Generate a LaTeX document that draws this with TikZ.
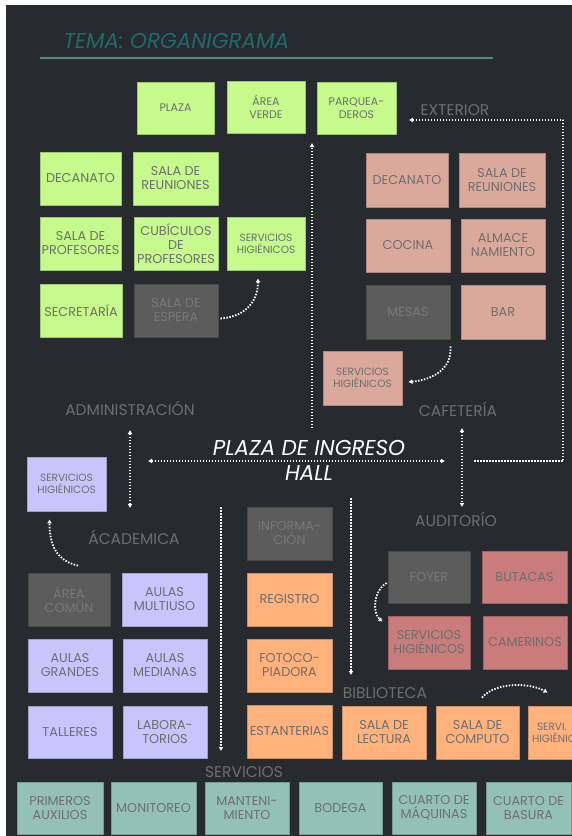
\documentclass[tikz,border=0pt]{standalone}
\usepackage{fontspec}
\setmainfont{Poppins}
\usetikzlibrary{arrows.meta}

\definecolor{fondo}{HTML}{272B2F}
\definecolor{verdeclaro}{HTML}{C6FA8C}
\definecolor{salmon}{HTML}{DBA99B}
\definecolor{lila}{HTML}{C6C6FC}
\definecolor{naranja}{HTML}{FFB27C}
\definecolor{rosa}{HTML}{C97C7B}
\definecolor{turquesa}{HTML}{93C1BA}
\definecolor{grisbox}{HTML}{5C5C5C}
\definecolor{gristexto}{HTML}{6E6E6E}
\definecolor{grisapagado}{HTML}{787878}
\definecolor{titulo}{HTML}{1E6B6A}
\definecolor{linea}{HTML}{5B8781}

\tikzset{
  caja/.style={draw=#1!80!black, fill=#1, line width=0.8pt, minimum width=84pt,
    minimum height=53pt, inner sep=1pt, align=center, text=gristexto,
    font=\fontsize{12.8}{14}\selectfont},
  chico/.style={font=\fontsize{10.5}{12}\selectfont},
  arriba/.style={font=\fontsize{11}{13}\selectfont},
  apagada/.style={caja=grisbox, text=grisapagado},
  zona/.style={text=gristexto, font=\fontsize{15.5}{18}\selectfont},
  flujo/.style={white, line width=2.2pt, dash pattern=on 1.5pt off 1.5pt},
}

\begin{document}
\begin{tikzpicture}[x=1pt,y=-1pt,>={Latex[length=4pt,width=5pt]},line join=round]
\useasboundingbox (0,0) rectangle (572,836);
\clip (0,0) rectangle (572,836);
\fill[white] (0,0) rectangle (572,836);
\fill[fondo] (6,5) rectangle (572,836);

% titulo
\node[anchor=base west, text=titulo, font=\fontsize{21.5}{24}\selectfont\itshape] (tema) at (60,48) {TEMA: ORGANIGRAMA};
\draw[linea, line width=2.5pt] (40,58) -- (493,58);

% exterior
\node[caja=verdeclaro, arriba, minimum width=77pt, minimum height=52pt] (plaza) at (175.5,108) {PLAZA};
\node[caja=verdeclaro, arriba, minimum width=78pt, minimum height=52pt] (verde) at (266,107) {ÁREA\\VERDE};
\node[caja=verdeclaro, arriba, minimum width=79pt, minimum height=52pt] (parq) at (356.5,108) {PARQUEA-\\DEROS};

% administracion
\node[caja=verdeclaro, minimum width=81pt] (decA) at (80.5,178.5) {DECANATO};
\node[caja=verdeclaro, minimum width=85pt] (reunA) at (175.5,178.5) {SALA DE\\REUNIONES};
\node[caja=verdeclaro, minimum width=81pt] (profA) at (80.5,243.5) {SALA DE\\PROFESORES};
\node[caja=verdeclaro] (cubA) at (176,243.5) {CUBÍCULOS\\DE\\PROFESORES};
\node[caja=verdeclaro, chico, minimum width=78pt] (shA) at (266,243.5) {SERVICIOS\\HIGIÉNICOS};
\node[caja=verdeclaro, minimum width=82pt] (secA) at (81,310.5) {SECRETARÍA};
\node[apagada] (espA) at (176,310.5) {SALA DE\\ESPERA};

% cafeteria
\node[caja=salmon, minimum width=82pt, minimum height=54pt] (decC) at (407,180) {DECANATO};
\node[caja=salmon, minimum width=86pt, minimum height=54pt] (reunC) at (502,180) {SALA DE\\REUNIONES};
\node[caja=salmon] (cocC) at (408,245.5) {COCINA};
\node[caja=salmon] (almC) at (503,245.5) {ALMACE\\NAMIENTO};
\node[apagada, minimum height=54pt] (mesC) at (408,312) {MESAS};
\node[caja=salmon, minimum height=54pt] (barC) at (503,312) {BAR};
\node[caja=salmon, chico, minimum width=79pt, minimum height=54pt] (shC) at (362.5,378) {SERVICIOS\\HIGIÉNICOS};

% zonas
\node[zona] (exterior) at (455,110) {EXTERIOR};
\node[zona] (admin) at (130,408) {ADMINISTRACIÓN};
\node[zona] (cafe) at (458,409) {CAFETERÍA};
\node[zona] (auditorio) at (456,519) {AUDITORÍO};
\node[zona] (academica) at (134,537) {ÁCADEMICA};
\node[zona] (biblioteca) at (385,693) {BIBLIOTECA};
\node[zona] (servicios) at (244,772) {SERVICIOS};
\node[text=white, align=center, font=\fontsize{21.5}{25}\selectfont\itshape] (hall) at (309,460) {PLAZA DE INGRESO\\HALL};

% academica
\node[caja=lila, chico, minimum width=79pt, minimum height=54pt] (shK) at (66.5,484) {SERVICIOS\\HIGIÉNICOS};
\node[apagada, minimum width=82pt] (comK) at (69,599.5) {ÁREA\\COMÚN};
\node[caja=lila, minimum width=85pt] (mulK) at (164.5,599.5) {AULAS\\MULTIUSO};
\node[caja=lila] (graK) at (70,665.5) {AULAS\\GRANDES};
\node[caja=lila] (medK) at (165,665.5) {AULAS\\MEDIANAS};
\node[caja=lila, minimum height=52pt] (talK) at (70,732) {TALLERES};
\node[caja=lila, minimum height=52pt] (labK) at (165,732) {LABORA-\\TORIOS};

% biblioteca
\node[apagada, minimum width=85pt] (infB) at (289.5,533.5) {INFORMA-\\CIÓN};
\node[caja=naranja, minimum width=85pt] (regB) at (289.5,599.5) {REGISTRO};
\node[caja=naranja, minimum width=85pt] (fotB) at (289.5,665.5) {FOTOCO-\\PIADORA};
\node[caja=naranja, minimum width=85pt] (estB) at (289.5,731.5) {ESTANTERIAS};
\node[caja=naranja] (lecB) at (384,732.5) {SALA DE\\LECTURA};
\node[caja=naranja, minimum width=83pt] (compB) at (477.5,732.5) {SALA DE\\COMPUTO};
\node[caja=naranja, chico, minimum width=85pt, text width=77pt, align=left] (shB) at (570.5,732.5) {\hspace*{5pt}SERVI.\\HIGIÉNICOS};

% auditorio
\node[apagada, minimum width=82pt, minimum height=52pt] (foyD) at (429,577) {FOYER};
\node[caja=rosa, minimum width=85pt, minimum height=52pt] (butD) at (524.5,577) {BUTACAS};
\node[caja=rosa, minimum width=82pt] (shD) at (429,642.5) {SERVICIOS\\HIGIÉNICOS};
\node[caja=rosa] (camD) at (525,642.5) {CAMERINOS};

% servicios
\node[caja=turquesa, minimum width=86pt, minimum height=52pt] (priS) at (60,808) {PRIMEROS\\AUXILIOS};
\node[caja=turquesa, minimum width=85pt, minimum height=52pt] (monS) at (153.5,808) {MONITOREO};
\node[caja=turquesa, minimum height=52pt] (manS) at (247,808) {MANTENI-\\MIENTO};
\node[caja=turquesa, minimum width=83pt, minimum height=52pt] (bodS) at (340.5,808) {BODEGA};
\node[caja=turquesa, minimum height=52pt] (maqS) at (434,808) {CUARTO DE\\MÁQUINAS};
\node[caja=turquesa, minimum width=85pt, minimum height=52pt] (basS) at (528.5,808) {CUARTO DE\\BASURA};

% recorridos
\coordinate (pasoS) at (312,428);
\coordinate (pasoN) at (312,143);
\coordinate (extA) at (474,461);
\coordinate (extB) at (563,461);
\coordinate (extC) at (563,120);
\coordinate (extD) at (409,120);
\coordinate (hallO) at (148,461);
\coordinate (hallE) at (445,461);
\coordinate (admN) at (130,430);
\coordinate (admS) at (130,508);
\coordinate (cafN) at (462,428);
\coordinate (cafS) at (462,507);
\coordinate (serN) at (221,507);
\coordinate (serS) at (221,751);
\coordinate (bibN) at (351,498);
\coordinate (bibS) at (351,675);

\draw[flujo,->] (pasoS) -- (pasoN);
\draw[flujo,->] (extA) -- (extB) -- (extC) -- (extD);
\draw[flujo,<->] (hallO) -- (hallE);
\draw[flujo,<->] (admN) -- (admS);
\draw[flujo,<->] (cafN) -- (cafS);
\draw[flujo,->] (serN) -- (serS);
\draw[flujo,->] (bibN) -- (bibS);

\draw[flujo,line width=1.8pt,->] ([xshift=2pt,yshift=-8pt]espA.east) .. controls +(28,-2) and +(0,20) .. ([xshift=-8pt,yshift=-8pt]shA.south);
\draw[flujo,line width=1.8pt,->] ([yshift=-7pt]mesC.south east) .. controls +(2,24) and +(22,-2) .. ([xshift=6pt,yshift=-4pt]shC.east);
\draw[flujo,line width=1.8pt,->] ([xshift=9pt,yshift=7pt]comK.north) .. controls +(-22,-5) and +(0,25) .. ([xshift=-17pt,yshift=-8pt]shK.south);
\draw[flujo,line width=1.8pt,->] ([xshift=-1pt,yshift=-6pt]foyD.west) .. controls +(-14,8) and +(-10,-8) .. ([xshift=-5pt,yshift=-6pt]shD.north west);
\draw[flujo,line width=1.8pt,->] ([xshift=4.5pt,yshift=8pt]compB.north) .. controls +(14,-16) and +(-18,-10) .. ([xshift=20pt,yshift=13pt]shB.north west);
\end{tikzpicture}
\end{document}
